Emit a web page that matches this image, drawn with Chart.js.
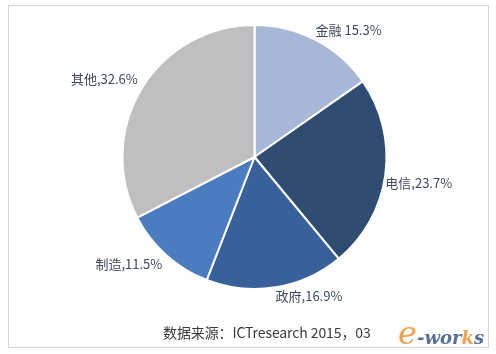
<!DOCTYPE html>
<html>
<head>
<meta charset="utf-8">
<script src="https://cdn.jsdelivr.net/npm/chart.js@4/dist/chart.umd.min.js"></script>
<style>
  html, body { margin: 0; padding: 0; background: #ffffff; }
  #wrap { position: relative; width: 496px; height: 354px; }
  #frame { position: absolute; left: 8px; top: 5px; width: 479px; height: 341px; border: 1px solid #d6d6d6; box-sizing: content-box; pointer-events: none; }
  canvas { position: absolute; left: 0; top: 0; }
  #source { position: absolute; left: 163px; top: 322px; font-family: "Noto Sans CJK SC", "Noto Sans", sans-serif; font-size: 14px; color: #3a3a3a; white-space: nowrap; letter-spacing: -0.1px; }
  #logo { position: absolute; left: 398px; top: 314px; font-family: "DejaVu Serif", "Liberation Serif", serif; font-style: italic; font-weight: bold; white-space: nowrap; }
  #logo .e { font-size: 32px; color: #f0a24a; font-weight: normal; }
  #logo .w { font-size: 18px; color: #5a6f96; }
  #logo .k { font-size: 18px; color: #f0a24a; }
</style>
</head>
<body>
<div id="wrap">
  <canvas id="c" width="496" height="354"></canvas>
  <div id="frame"></div>
  <div id="source">数据来源：ICTresearch 2015，03</div>
  <div id="logo"><span class="e">e</span><span class="w">-wor</span><span class="k">k</span><span class="w">s</span></div>
</div>
<script>
const categories = ["金融", "电信", "政府", "制造", "其他"];
const shares = [15.3, 23.7, 16.9, 11.5, 32.6];
const separators = [" ", ",", ",", ",", ","];
const sliceColors = ["#a7b7d8", "#2f4c73", "#38609a", "#4a7cbf", "#bfbfbf"];

const labelPlugin = {
  id: "sliceLabels",
  afterDatasetsDraw(chart) {
    const ctx = chart.ctx;
    const meta = chart.getDatasetMeta(0);
    ctx.save();
    ctx.font = '13px "Noto Sans CJK SC", "Noto Sans", sans-serif';
    ctx.fillStyle = "#3d4a5c";
    meta.data.forEach((arc, i) => {
      const mid = (arc.startAngle + arc.endAngle) / 2;
      const r = arc.outerRadius;
      const cx = Math.cos(mid), cy = Math.sin(mid);
      let x = arc.x + cx * r;
      let y = arc.y + cy * r;
      ctx.textAlign = cx >= 0 ? "left" : "right";
      ctx.textBaseline = cy < 0 ? "bottom" : "top";
      x += cx >= 0 ? 0 : -4;
      y += cy < 0 ? -3 : 2;
      ctx.fillText(categories[i] + separators[i] + shares[i].toFixed(1) + "%", x, y);
    });
    ctx.restore();
  }
};

new Chart(document.getElementById("c"), {
  type: "pie",
  data: {
    labels: categories,
    datasets: [{
      data: shares,
      backgroundColor: sliceColors,
      borderColor: "#ffffff",
      borderWidth: 2
    }]
  },
  options: {
    responsive: false,
    animation: false,
    rotation: 0,
    layout: { padding: { left: 121, right: 108, top: 24, bottom: 64 } },
    plugins: {
      legend: { display: false },
      tooltip: { enabled: false }
    }
  },
  plugins: [labelPlugin]
});
</script>
</body>
</html>
